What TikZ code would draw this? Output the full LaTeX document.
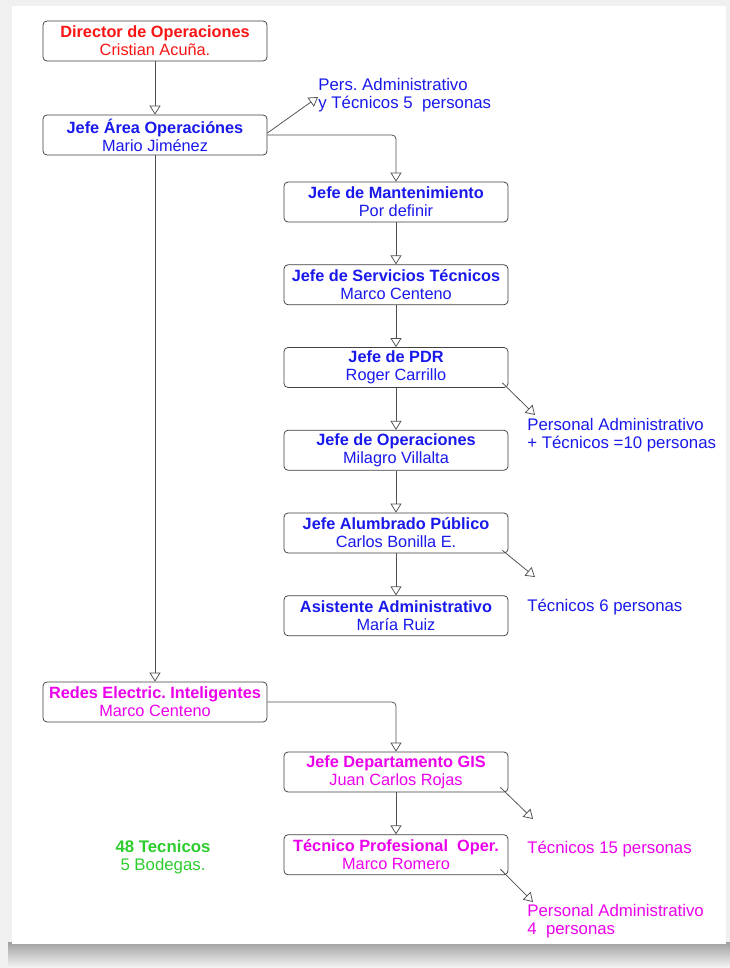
\documentclass[tikz,border=0pt]{standalone}
\usepackage{fontspec}
\setmainfont{Liberation Sans}
\usetikzlibrary{arrows.meta, positioning, calc}
\frenchspacing

\definecolor{rojo}{RGB}{250,20,20}
\definecolor{azul}{RGB}{25,25,235}
\definecolor{rosa}{RGB}{235,0,235}
\definecolor{verde}{RGB}{45,205,45}
\definecolor{linea}{RGB}{80,80,80}

\begin{document}
\begin{tikzpicture}[x=1pt,y=-1pt,->,>={Triangle[open,width=11pt,length=9pt]},
                    node distance=42pt,line width=0.75pt]
   \tikzstyle{puesto}=[draw=black!75,fill=white,rounded corners=4pt,minimum width=224pt,
                       minimum height=40pt,inner sep=2pt,align=center,
                       font=\fontsize{16.3}{18}\selectfont]
   \tikzstyle{nota}=[anchor=west,align=left,inner sep=0pt,font=\fontsize{16.8}{18}\selectfont]
   \tikzstyle{conector}=[draw=linea,rounded corners=4pt]

   % fondo
   \useasboundingbox (0,0) rectangle (730,968);
   \fill[-,gray!12] (0,0) rectangle (730,968);
   \shade[-,top color=gray!75,bottom color=gray!8] (8,942) rectangle (730,968);
   \fill[-,white] (12,6) rectangle (726,944);

   \node[puesto,text=rojo] (dir)  at (155,41)  {\textbf{Director de Operaciones}\\Cristian Acuña.};
   \node[puesto,text=azul] (area) at (155,135) {\textbf{Jefe Área Operaciónes}\\Mario Jiménez};
   \node[puesto,text=azul] (mant) at (396,202) {\textbf{Jefe de Mantenimiento}\\Por definir};
   \node[puesto,text=azul] (serv) [below=of mant] {\textbf{Jefe de Servicios Técnicos}\\Marco Centeno};
   \node[puesto,text=azul] (pdr)  [below=of serv] {\textbf{Jefe de PDR}\\Roger Carrillo};
   \node[puesto,text=azul] (oper) [below=of pdr]  {\textbf{Jefe de Operaciones}\\Milagro Villalta};
   \node[puesto,text=azul] (alum) [below=of oper] {\textbf{Jefe Alumbrado Público}\\Carlos Bonilla E.};
   \node[puesto,text=azul] (asis) [below=of alum] {\textbf{Asistente Administrativo}\\María Ruiz};
   \node[puesto,text=rosa] (redes) at (155,702) {\textbf{Redes Electric. Inteligentes}\\Marco Centeno};
   \node[puesto,text=rosa] (gis)  at (396,772) {\textbf{Jefe Departamento GIS}\\Juan Carlos Rojas};
   \node[puesto,text=rosa] (tec)  [below=of gis]  {\textbf{Técnico Profesional\ \ Oper.}\\Marco Romero};

   \node[nota,text=azul] (persnota) at (318,95)  {Pers. Administrativo\\y Técnicos 5\ \ personas};
   \node[nota,text=azul] (pdrnota)  at (527,435) {Personal Administrativo\\+ Técnicos =10 personas};
   \node[nota,text=azul] (alumnota) at (527,607) {Técnicos 6 personas};
   \node[nota,text=rosa] (gisnota)  at (527,849) {Técnicos 15 personas};
   \node[nota,text=rosa] (tecnota)  at (527,921) {Personal Administrativo\\4\ \ personas};
   \node[nota,anchor=center,align=center,text=verde] (bodegas) at (163,857) {\textbf{48 Tecnicos}\\5 Bodegas.};

   \coordinate (persfin) at (318,97);
   \coordinate (pdrfin)  at (535,415);
   \coordinate (alumfin) at (535,577);
   \coordinate (gisfin)  at (533,819);
   \coordinate (tecfin)  at (533,902);

   \draw[conector] (dir) -- (area);
   \draw[conector] (area) -- (redes);
   \draw[conector] (area.east) -| (mant.north);
   \draw[conector] (redes.east) -| (gis.north);
   \foreach \a/\b in {mant/serv,serv/pdr,pdr/oper,oper/alum,alum/asis,gis/tec}
      \draw[conector] (\a) -- (\b);

   \draw[conector] ($(area.east)+(0,-2)$) -- (persfin);
   \draw[conector] ($(pdr.south east)+(-6,-5)$) -- (pdrfin);
   \draw[conector] ($(alum.south east)+(-6,-3)$) -- (alumfin);
   \draw[conector] ($(gis.south east)+(-8,-5)$) -- (gisfin);
   \draw[conector] ($(tec.south east)+(-8,-6)$) -- (tecfin);
\end{tikzpicture}
\end{document}
